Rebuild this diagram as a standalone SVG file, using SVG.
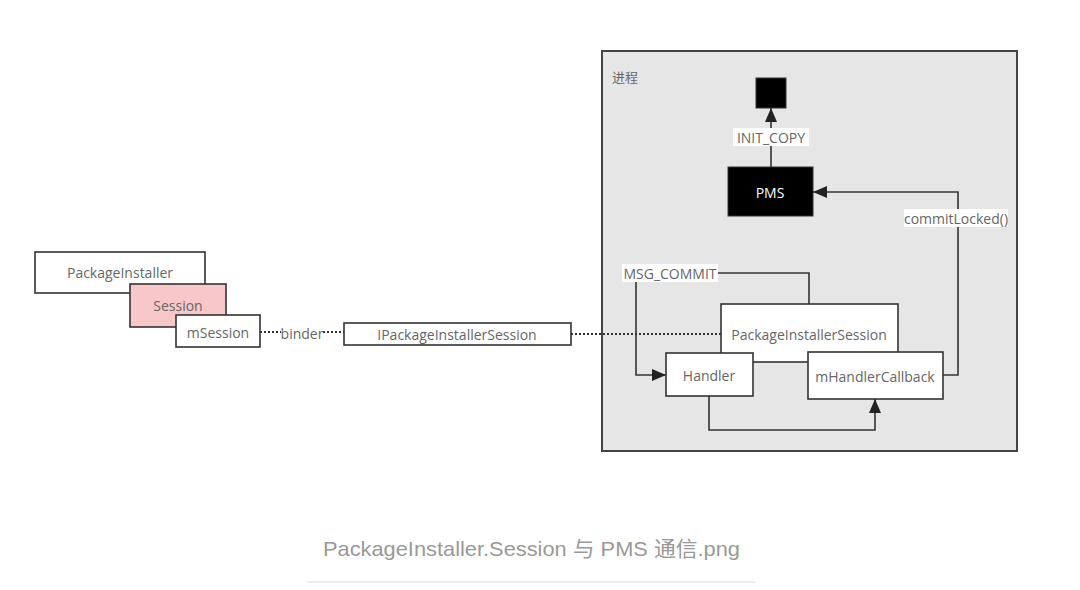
<svg xmlns="http://www.w3.org/2000/svg" width="1080" height="590" viewBox="0 0 1080 590">
<style>
.box{fill:#fff;stroke:#333;stroke-width:1.6}
.t{font-family:"Open Sans","Liberation Sans","Noto Sans CJK SC",sans-serif;font-size:14px;fill:#666;text-anchor:middle;dominant-baseline:central}
.ln{fill:none;stroke:#333;stroke-width:1.6}
.dot{fill:none;stroke:#333;stroke-width:2;stroke-dasharray:2 2}
.lbl{fill:#fff}
</style>
<defs>
<marker id="ah" viewBox="0 0 14 12" refX="14" refY="6" markerWidth="14" markerHeight="12" markerUnits="userSpaceOnUse" orient="auto">
<path d="M0,0 L14,6 L0,12 z" fill="#222"/>
</marker>
</defs>
<rect width="1080" height="590" fill="#fff"/>
<g id="process">
<rect x="602" y="51" width="415" height="400" fill="#e6e6e6" stroke="#444" stroke-width="2"/>
<text x="612" y="77" class="t" style="text-anchor:start;font-size:13px">进程</text>
</g>
<g id="connectors">
<path class="dot" d="M260,332 H281"/>
<path class="dot" d="M323,332 H344"/>
<path class="dot" d="M571,334 H721"/>
<path class="ln" d="M771,167 V108" marker-end="url(#ah)"/>
<path class="ln" d="M943,375 H958 V192 H813" marker-end="url(#ah)"/>
<path class="ln" d="M718,273 H809 V304"/>
<path class="ln" d="M636,280 V375 H666" marker-end="url(#ah)"/>
<path class="ln" d="M709,396 V430 H875 V399" marker-end="url(#ah)"/>
<rect class="lbl" x="733" y="128" width="76" height="18"/>
<text x="771" y="137" class="t">INIT_COPY</text>
<rect class="lbl" x="904" y="209" width="104" height="18"/>
<text x="956" y="218" class="t">commitLocked()</text>
<rect class="lbl" x="622" y="264" width="96" height="18"/>
<text x="670" y="273" class="t">MSG_COMMIT</text>
<text x="302" y="333" class="t">binder</text>
</g>
<g id="packageInstaller">
<rect class="box" x="35" y="252" width="170" height="41"/>
<text x="120" y="272" class="t">PackageInstaller</text>
</g>
<g id="session">
<rect class="box" x="130" y="284" width="96" height="43" style="fill:#f8c8c9"/>
<text x="178" y="305" class="t">Session</text>
</g>
<g id="mSession">
<rect class="box" x="176" y="315" width="84" height="32"/>
<text x="218" y="332" class="t">mSession</text>
</g>
<g id="iPackageInstallerSession">
<rect class="box" x="344" y="323" width="227" height="22"/>
<text x="457" y="334" class="t">IPackageInstallerSession</text>
</g>
<g id="initTarget">
<rect x="756" y="78" width="30" height="30" fill="#000" stroke="#333"/>
</g>
<g id="pms">
<rect x="728" y="167" width="85" height="49" fill="#000" stroke="#333"/>
<text x="770" y="192" class="t" style="fill:#fff">PMS</text>
</g>
<g id="packageInstallerSession">
<rect class="box" x="721" y="304" width="177" height="58"/>
<text x="809" y="334" class="t">PackageInstallerSession</text>
</g>
<g id="handler">
<rect class="box" x="666" y="353" width="87" height="43"/>
<text x="709" y="375" class="t">Handler</text>
</g>
<g id="mHandlerCallback">
<rect class="box" x="808" y="352" width="135" height="47"/>
<text x="875" y="376" class="t">mHandlerCallback</text>
</g>
<g id="caption">
<text x="323" y="548" textLength="417" lengthAdjust="spacingAndGlyphs" style="font-family:'Liberation Sans','Noto Sans CJK SC',sans-serif;font-size:21px;fill:#999;dominant-baseline:central">PackageInstaller.Session 与 PMS 通信.png</text>
<line x1="307" y1="582" x2="756" y2="582" stroke="#ddd" stroke-width="1"/>
</g>
</svg>
